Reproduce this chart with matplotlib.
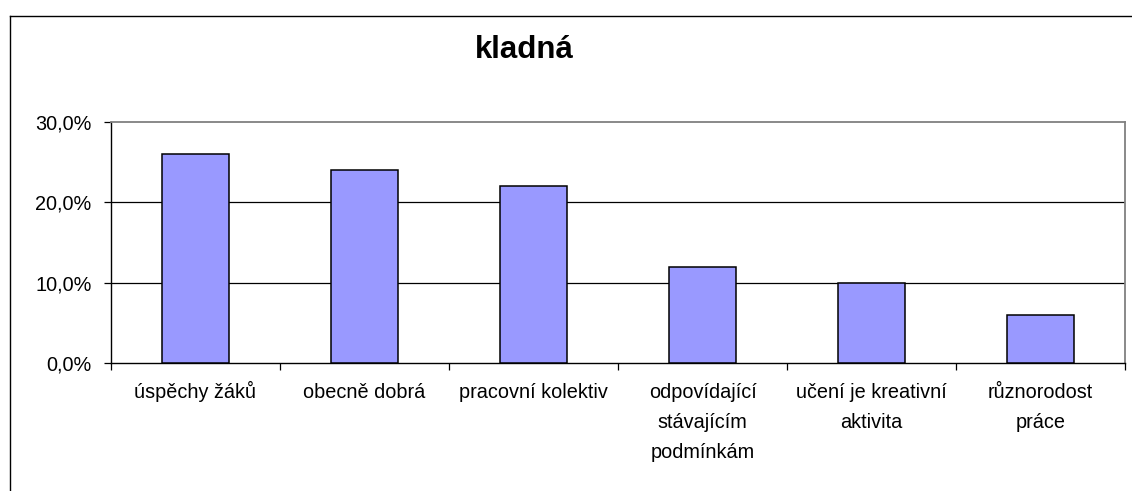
import matplotlib.pyplot as plt
from matplotlib.lines import Line2D
from matplotlib.ticker import FuncFormatter, FixedLocator

plt.rcParams['font.family'] = ['Liberation Sans', 'DejaVu Sans']

categories = ['úspěchy žáků', 'obecně dobrá', 'pracovní kolektiv',
              'odpovídající\nstávajícím\npodmínkám', 'učení je kreativní\naktivita',
              'různorodost\npráce']
values = [26, 24, 22, 12, 10, 6]
yticks = [0, 10, 20, 30]
title = 'kladná'

W, H = 1132, 491
fig = plt.figure(figsize=(W / 100, H / 100), dpi=100)
ax = fig.add_axes([111 / W, 1 - 363 / H, (1125 - 111) / W, (363 - 122) / H])

x = list(range(len(categories)))
ax.bar(x, values, width=0.4, color='#9999FF', edgecolor='black', linewidth=1.1, zorder=3)

ax.set_xlim(-0.5, len(categories) - 0.5)
ax.set_ylim(0, 30)
ax.set_yticks(yticks)
ax.yaxis.set_major_formatter(FuncFormatter(lambda v, p: ('%.1f%%' % v).replace('.', ',')))
for v in yticks[1:-1]:
    ax.axhline(v, color='black', linewidth=0.9, zorder=1)

# category labels: each line placed on its own baseline so that first lines line up
ax.set_xticks(x)
ax.set_xticklabels([])
for i, lab in enumerate(categories):
    for k, line in enumerate(lab.split('\n')):
        ax.annotate(line, xy=(i, 0), xycoords=('data', 'axes fraction'),
                    xytext=(0, -25.2 - 21.6 * k), textcoords='offset points',
                    ha='center', va='baseline', fontsize=14.3)
ax.xaxis.set_minor_locator(FixedLocator([i - 0.5 for i in range(len(categories) + 1)]))
ax.tick_params(axis='x', which='major', length=0)
ax.tick_params(axis='x', which='minor', length=5, width=0.9, color='black')
ax.tick_params(axis='y', length=5, width=0.9, pad=9, labelsize=14.3)

for s in ['left', 'bottom']:
    ax.spines[s].set_color('black')
    ax.spines[s].set_linewidth(1.0)
for s in ['top', 'right']:
    ax.spines[s].set_color('#808080')
    ax.spines[s].set_linewidth(1.3)

fig.text(524 / W, 1 - 50 / H, title, fontsize=22.5, fontweight='bold', ha='center', va='center')

# outer chart border (runs off the image on the right and bottom)
fig.add_artist(Line2D([9.5 / W, 9.5 / W], [-0.1, 1 - 16 / H], color='black', linewidth=1.0, transform=fig.transFigure))
fig.add_artist(Line2D([9.5 / W, 1.1], [1 - 16 / H, 1 - 16 / H], color='black', linewidth=1.0, transform=fig.transFigure))

fig.savefig('out.png', dpi=100)
